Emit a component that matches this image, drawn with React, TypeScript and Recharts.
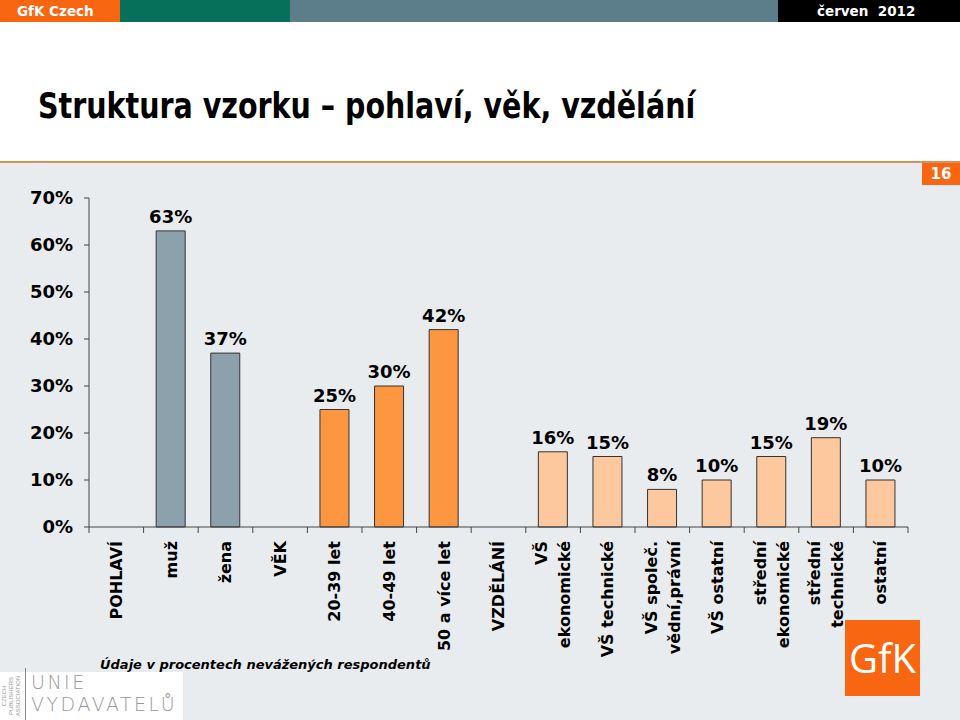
import React from 'react';
import { BarChart, Bar, XAxis, YAxis, Cell, LabelList } from 'recharts';

const categories = [
    'POHLAVÍ',
    'muž',
    'žena',
    'VĚK',
    '20-39 let',
    '40-49 let',
    '50 a více let',
    'VZDĚLÁNÍ',
    'VŠ\nekonomické',
    'VŠ technické',
    'VŠ společ.\nvědní,právní',
    'VŠ ostatní',
    'střední\nekonomické',
    'střední\ntechnické',
    'ostatní'
];
const values: (number | null)[] = [null, 63, 37, null, 25, 30, 42, null, 16, 15, 8, 10, 15, 19, 10];
const groups = ['header', 'gender', 'gender', 'header', 'age', 'age', 'age', 'header', 'edu', 'edu', 'edu', 'edu', 'edu', 'edu', 'edu'];
const yTicks = [0, 10, 20, 30, 40, 50, 60, 70];

const groupColors: Record<string, string> = {
    header: 'transparent',
    gender: '#8ca1ab',
    age: '#fd9641',
    edu: '#fdc89d'
};

const data = categories.map((name, i) => ({ name, value: values[i], group: groups[i] }));

const FONT = '"DejaVu Sans", Verdana, sans-serif';
const PLOT_LEFT = 89;
const PLOT_RIGHT = 908;
const BAND = (PLOT_RIGHT - PLOT_LEFT) / categories.length;

const CategoryTick = (props: any) => {
    const { x, y, payload, index } = props;
    const lines = String(payload.value).split('\n');
    const lh = 23;
    const top = y + 6;
    const axisY = y - 8;
    return (
        <g>
            <line x1={x - BAND / 2} x2={x - BAND / 2} y1={axisY} y2={axisY + 6} stroke="#444" />
            {index === categories.length - 1 && (
                <line x1={x + BAND / 2} x2={x + BAND / 2} y1={axisY} y2={axisY + 6} stroke="#444" />
            )}
            {lines.map((ln, i) => {
                const cx = x + (i - (lines.length - 1) / 2) * lh;
                return (
                    <text
                        key={i}
                        x={cx}
                        y={top}
                        dy="0.36em"
                        transform={`rotate(-90, ${cx}, ${top})`}
                        textAnchor="end"
                        fontFamily={FONT}
                        fontWeight="bold"
                        fontSize={16}
                        fill="#000"
                    >
                        {ln}
                    </text>
                );
            })}
        </g>
    );
};

const App: React.FC = () => {
    return (
        <div
            style={{
                position: 'absolute',
                left: 0,
                top: 0,
                width: 960,
                height: 720,
                background: '#e9ecee',
                overflow: 'hidden',
                fontFamily: FONT
            }}
        >
            {/* header strip */}
            <div style={{ position: 'absolute', left: 0, top: 0, width: 960, height: 162, background: '#fff' }} />
            <div style={{ position: 'absolute', left: 0, top: 0, width: 120, height: 22, background: '#f96611' }} />
            <div style={{ position: 'absolute', left: 120, top: 0, width: 170, height: 22, background: '#06705a' }} />
            <div style={{ position: 'absolute', left: 290, top: 0, width: 488, height: 22, background: '#5c7d8a' }} />
            <div style={{ position: 'absolute', left: 778, top: 0, width: 182, height: 22, background: '#000' }} />
            <div style={{ position: 'absolute', left: 17, top: 3, color: '#fff', fontWeight: 'bold', fontSize: 13.5 }}>GfK Czech</div>
            <div style={{ position: 'absolute', left: 817, top: 3, color: '#fff', fontWeight: 'bold', fontSize: 13.5 }}>červen&nbsp; 2012</div>

            <div
                style={{
                    position: 'absolute',
                    left: 38,
                    top: 86,
                    fontWeight: 'bold',
                    fontSize: 35,
                    color: '#000',
                    whiteSpace: 'nowrap',
                    transform: 'scaleX(0.815)',
                    transformOrigin: 'left top'
                }}
            >
                Struktura vzorku – pohlaví, věk, vzdělání
            </div>

            <div style={{ position: 'absolute', left: 0, top: 161, width: 960, height: 2, background: '#d9905a' }} />
            <div
                style={{
                    position: 'absolute',
                    left: 922,
                    top: 163,
                    width: 38,
                    height: 22,
                    background: '#f96611',
                    color: '#fff',
                    fontWeight: 'bold',
                    fontSize: 15,
                    textAlign: 'center',
                    lineHeight: '22px'
                }}
            >
                16
            </div>

            <div style={{ position: 'absolute', left: 0, top: 0 }}>
                <BarChart
                    width={960}
                    height={720}
                    data={data}
                    margin={{ top: 198, right: 960 - PLOT_RIGHT, bottom: 0, left: 0 }}
                    barCategoryGap="23%"
                >
                    <XAxis
                        dataKey="name"
                        interval={0}
                        height={193}
                        tickLine={false}
                        axisLine={{ stroke: '#444', strokeWidth: 1 }}
                        tick={<CategoryTick />}
                    />
                    <YAxis
                        width={PLOT_LEFT}
                        domain={[0, 70]}
                        ticks={yTicks}
                        tickFormatter={(v: number) => `${v}%`}
                        tickSize={5}
                        tickMargin={11}
                        axisLine={{ stroke: '#444', strokeWidth: 1 }}
                        tickLine={{ stroke: '#444' }}
                        tick={{ fontFamily: FONT, fontWeight: 'bold', fontSize: 18, fill: '#000' }}
                    />
                    <Bar dataKey="value" stroke="#333" strokeWidth={1} isAnimationActive={false}>
                        {data.map((d, i) => (
                            <Cell key={i} fill={groupColors[d.group]} />
                        ))}
                        <LabelList
                            dataKey="value"
                            position="top"
                            offset={8}
                            formatter={(v: any) => (v == null ? '' : `${v}%`)}
                            style={{ fontFamily: FONT, fontWeight: 'bold', fontSize: 18, fill: '#000' }}
                        />
                    </Bar>
                </BarChart>
            </div>

            <div
                style={{
                    position: 'absolute',
                    left: 100,
                    top: 657,
                    fontWeight: 'bold',
                    fontStyle: 'italic',
                    fontSize: 13,
                    color: '#000',
                    whiteSpace: 'nowrap'
                }}
            >
                Údaje v procentech nevážených respondentů
            </div>

            {/* publishers association logo */}
            <div style={{ position: 'absolute', left: 0, top: 672, width: 183, height: 48, background: '#fff' }} />
            <div style={{ position: 'absolute', left: 25, top: 668, width: 1, height: 52, background: '#888' }} />
            <div
                style={{
                    position: 'absolute',
                    left: 1,
                    top: 720,
                    width: 48,
                    transform: 'rotate(-90deg)',
                    transformOrigin: 'left top',
                    color: '#999',
                    fontSize: 6,
                    lineHeight: '7px',
                    textAlign: 'center',
                    fontFamily: '"Liberation Sans", sans-serif'
                }}
            >
                CZECH
                <br />
                PUBLISHERS
                <br />
                ASSOCIATION
            </div>
            <div
                style={{
                    position: 'absolute',
                    left: 31,
                    top: 671,
                    color: '#999',
                    fontFamily: '"DejaVu Sans", sans-serif',
                    fontWeight: 200,
                    fontSize: 19,
                    lineHeight: '22px',
                    letterSpacing: 2.5
                }}
            >
                UNIE
                <br />
                VYDAVATELŮ
            </div>

            {/* GfK logo */}
            <div
                style={{
                    position: 'absolute',
                    left: 845,
                    top: 620,
                    width: 75,
                    height: 76,
                    background: '#f96611',
                    color: '#fff',
                    fontFamily: '"Open Sans", sans-serif',
                    fontSize: 40,
                    lineHeight: '76px',
                    textAlign: 'center'
                }}
            >
                GfK
            </div>
        </div>
    );
};

export default App;
